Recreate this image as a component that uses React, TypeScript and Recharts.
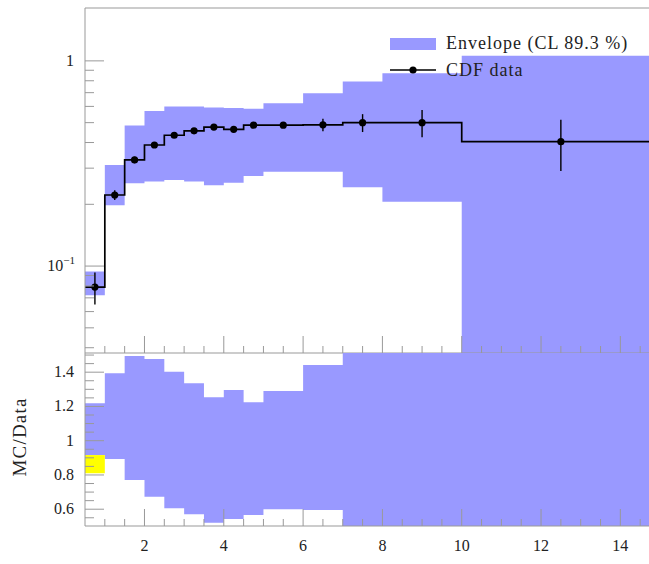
import { ComposedChart, Area, Line, Scatter, ErrorBar, XAxis, YAxis } from 'recharts';

// bin edges of the histogram (last bin is 10..15)
const binEdges = [0.5, 1, 1.5, 2, 2.5, 3, 3.5, 4, 4.5, 5, 6, 7, 8, 10, 15];

// CDF data per bin, with its error
const cdfValues = [0.079, 0.222, 0.329, 0.389, 0.434, 0.456, 0.476, 0.464, 0.486, 0.486, 0.488, 0.5, 0.5, 0.404];
const cdfErrors = [0.014, 0.012, 0.012, 0.01, 0.01, 0.01, 0.012, 0.01, 0.01, 0.012, 0.034, 0.05, 0.076, 0.113];

// envelope band (CL 89.3 %) per bin
const envelopeLow = [0.072, 0.198, 0.253, 0.258, 0.263, 0.258, 0.248, 0.255, 0.275, 0.288, 0.288, 0.242, 0.206, 0.02];
const envelopeHigh = [0.094, 0.311, 0.484, 0.57, 0.599, 0.599, 0.592, 0.59, 0.585, 0.622, 0.695, 0.793, 0.871, 1.058];

// MC/Data ratio band per bin
const ratioLow = [0.916, 0.893, 0.77, 0.673, 0.605, 0.57, 0.521, 0.543, 0.566, 0.6, 0.595, 0.4, 0.4, 0.4];
const ratioHigh = [1.218, 1.394, 1.495, 1.477, 1.403, 1.335, 1.253, 1.296, 1.224, 1.29, 1.442, 1.6, 1.6, 1.6];

// yellow band in the first bin of the ratio panel
const dataBandEdges = [0.5, 1];
const dataBandLow = [0.81];
const dataBandHigh = [0.916];

const xTicks = [1, 1.5, 2, 2.5, 3, 3.5, 4, 4.5, 5, 5.5, 6, 6.5, 7, 7.5, 8, 8.5, 9, 9.5, 10, 10.5, 11, 11.5, 12, 12.5, 13, 13.5, 14, 14.5];
const xMajor = [2, 4, 6, 8, 10, 12, 14];
const xLabels = ['2', '4', '6', '8', '10', '12', '14'];

const logMajorTicks = [0.1, 1];
const logMinorTicks = [0.04, 0.05, 0.06, 0.07, 0.08, 0.09, 0.2, 0.3, 0.4, 0.5, 0.6, 0.7, 0.8, 0.9];

const ratioMajorTicks = [0.6, 0.8, 1, 1.2, 1.4];
const ratioLabels = ['0.6', '0.8', '1', '1.2', '1.4'];
const ratioMinorTicks = [0.55, 0.65, 0.7, 0.75, 0.85, 0.9, 0.95, 1.05, 1.1, 1.15, 1.25, 1.3, 1.35, 1.45, 1.5];

const BLUE = '#9999ff';
const AXIS = '#999';
const FONT = '"Liberation Serif", serif';
const X_DOMAIN: [number, number] = [0.5, 15];
const TOP_DOMAIN: [number, number] = [0.0377, 1.81];
const RATIO_DOMAIN: [number, number] = [0.502, 1.512];

const stepRows = binEdges.map((x, i) => {
  const b = Math.min(i, cdfValues.length - 1);
  return { x, cdf: cdfValues[b], env: [envelopeLow[b], envelopeHigh[b]] };
});

const pointRows = cdfValues.map((v, i) => ({
  x: (binEdges[i] + binEdges[i + 1]) / 2,
  y: v,
  err: cdfErrors[i],
}));

const ratioRows = binEdges.map((x, i) => {
  const b = Math.min(i, ratioLow.length - 1);
  return { x, band: [ratioLow[b], ratioHigh[b]] };
});

const yellowRows = dataBandEdges.map((x, i) => {
  const b = Math.min(i, dataBandLow.length - 1);
  return { x, data: [dataBandLow[b], dataBandHigh[b]] };
});

const makeXTick = (withLabels: boolean) => (props: any) => {
  const { x, y, payload } = props;
  const idx = xMajor.indexOf(payload.value);
  const major = idx >= 0;
  return (
    <g>
      <line x1={x} x2={x} y1={y} y2={y - (major ? 17 : 7)} stroke={AXIS} />
      {withLabels && major && (
        <text x={x} y={y + 25} textAnchor="middle" fontSize={16} fontFamily={FONT} fill="#222">
          {xLabels[idx]}
        </text>
      )}
    </g>
  );
};

const logTick = (props: any) => {
  const { x, y, payload } = props;
  const v = payload.value;
  const major = logMajorTicks.includes(v);
  return (
    <g>
      <line x1={x} x2={x + (major ? 19 : 9)} y1={y} y2={y} stroke={AXIS} />
      {v === 1 && (
        <text x={x - 11} y={y + 5} textAnchor="end" fontSize={16} fontFamily={FONT} fill="#222">1</text>
      )}
      {v === 0.1 && (
        <text x={x - 10} y={y + 5} textAnchor="end" fontSize={16} fontFamily={FONT} fill="#222">
          10<tspan dy={-7} fontSize={11}>−1</tspan>
        </text>
      )}
    </g>
  );
};

const ratioTick = (props: any) => {
  const { x, y, payload } = props;
  const idx = ratioMajorTicks.findIndex((m) => Math.abs(m - payload.value) < 1e-9);
  const major = idx >= 0;
  return (
    <g>
      <line x1={x} x2={x + (major ? 19 : 9)} y1={y} y2={y} stroke={AXIS} />
      {major && (
        <text x={x - 11} y={y + 5} textAnchor="end" fontSize={16} fontFamily={FONT} fill="#222">
          {ratioLabels[idx]}
        </text>
      )}
    </g>
  );
};

// series layers (axes hidden, only used for scales)
const topMargin = { top: 8, right: 40, bottom: 7, left: 85 };
const ratioMargin = { top: 13, right: 40, bottom: 38, left: 85 };
// axis layers drawn above the series (each axis takes 1px)
const topAxisMargin = { top: 7, right: 40, bottom: 6, left: 84 };
const ratioAxisMargin = { top: 13, right: 40, bottom: 37, left: 84 };

export default function App() {
  return (
    <div
      style={{
        position: 'absolute', left: 0, top: 0, width: 649, height: 564,
        overflow: 'hidden', background: '#fff', fontFamily: FONT,
      }}
    >
      {/* top panel: envelope + CDF data */}
      <div style={{ position: 'absolute', left: 0, top: 0 }}>
        <ComposedChart width={700} height={360} data={stepRows} margin={topMargin}>
          <XAxis dataKey="x" type="number" domain={X_DOMAIN} hide />
          <YAxis type="number" scale="log" domain={TOP_DOMAIN} allowDataOverflow hide />
          <Area dataKey="env" type="stepAfter" fill={BLUE} fillOpacity={1} stroke="none" isAnimationActive={false} />
          <Line dataKey="cdf" type="stepAfter" stroke="#000" strokeWidth={1.7} dot={false} isAnimationActive={false} />
          <Scatter
            data={pointRows}
            dataKey="y"
            isAnimationActive={false}
            shape={(p: any) => <circle cx={p.cx} cy={p.cy} r={3.6} fill="#000" />}
          >
            <ErrorBar dataKey="err" direction="y" width={0} stroke="#000" strokeWidth={1.4} isAnimationActive={false} />
          </Scatter>
        </ComposedChart>
      </div>
      <div style={{ position: 'absolute', left: 0, top: 0 }}>
        <ComposedChart width={700} height={360} data={stepRows} margin={topAxisMargin}>
          <XAxis
            dataKey="x" type="number" domain={X_DOMAIN} ticks={xTicks} interval={0} height={1}
            tickSize={0} tickMargin={0} tickLine={false} axisLine={{ stroke: AXIS }} tick={makeXTick(false)}
          />
          <XAxis
            xAxisId="top" orientation="top" dataKey="x" type="number" domain={X_DOMAIN} height={1}
            tick={false} tickLine={false} axisLine={{ stroke: AXIS }}
          />
          <YAxis
            type="number" scale="log" domain={TOP_DOMAIN} allowDataOverflow
            ticks={[...logMinorTicks, ...logMajorTicks]} interval={0} width={1}
            tickSize={0} tickMargin={0} tickLine={false} axisLine={{ stroke: AXIS }} tick={logTick}
          />
        </ComposedChart>
      </div>

      {/* ratio panel */}
      <div style={{ position: 'absolute', left: 0, top: 340 }}>
        <ComposedChart width={700} height={224} data={ratioRows} margin={ratioMargin}>
          <XAxis dataKey="x" type="number" domain={X_DOMAIN} hide />
          <YAxis type="number" domain={RATIO_DOMAIN} allowDataOverflow hide />
          <Area dataKey="band" type="stepAfter" fill={BLUE} fillOpacity={1} stroke="none" isAnimationActive={false} />
          <Area data={yellowRows} dataKey="data" type="stepAfter" fill="#ffff00" fillOpacity={1} stroke="none" isAnimationActive={false} />
        </ComposedChart>
      </div>
      <div style={{ position: 'absolute', left: 0, top: 340 }}>
        <ComposedChart width={700} height={224} data={ratioRows} margin={ratioAxisMargin}>
          <XAxis
            dataKey="x" type="number" domain={X_DOMAIN} ticks={xTicks} interval={0} height={1}
            tickSize={0} tickMargin={0} tickLine={false} axisLine={{ stroke: AXIS }} tick={makeXTick(true)}
          />
          <YAxis
            type="number" domain={RATIO_DOMAIN} allowDataOverflow
            ticks={[...ratioMinorTicks, ...ratioMajorTicks]} interval={0} width={1}
            tickSize={0} tickMargin={0} tickLine={false} axisLine={{ stroke: AXIS }} tick={ratioTick}
          />
        </ComposedChart>
      </div>

      <div
        style={{
          position: 'absolute', left: 20, top: 437, transform: 'translate(-50%, -50%) rotate(-90deg)',
          fontSize: 19, letterSpacing: 1.2, whiteSpace: 'nowrap', color: '#222',
        }}
      >
        MC/Data
      </div>

      <div style={{ position: 'absolute', left: 390, top: 38, width: 46, height: 12, background: BLUE }} />
      <div style={{ position: 'absolute', left: 446, top: 33, fontSize: 18, lineHeight: '20px', letterSpacing: 1, whiteSpace: 'nowrap', color: '#222' }}>
        Envelope (CL 89.3 %)
      </div>
      <svg style={{ position: 'absolute', left: 390, top: 64 }} width={46} height={12}>
        <line x1={0} x2={46} y1={6} y2={6} stroke="#000" strokeWidth={1.7} />
        <circle cx={23} cy={6} r={3.6} fill="#000" />
      </svg>
      <div style={{ position: 'absolute', left: 446, top: 60, fontSize: 18, lineHeight: '20px', letterSpacing: 1, whiteSpace: 'nowrap', color: '#222' }}>
        CDF data
      </div>
    </div>
  );
}
